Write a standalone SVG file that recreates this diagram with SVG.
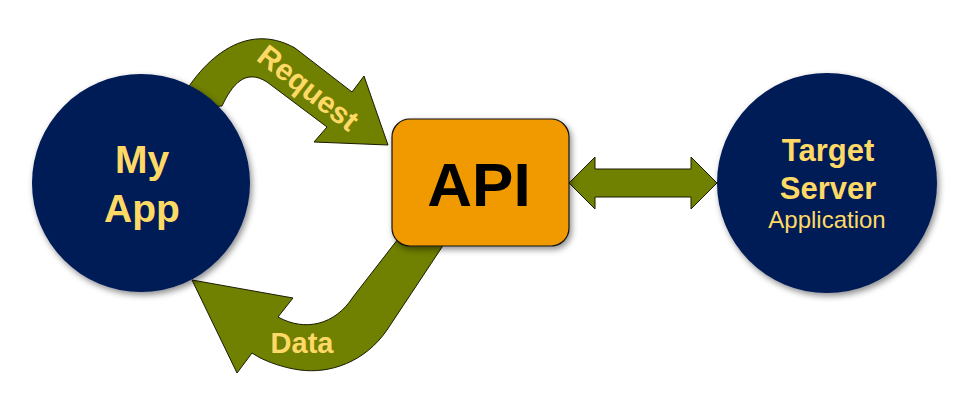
<svg xmlns="http://www.w3.org/2000/svg" width="960" height="419" viewBox="0 0 960 419">
<defs>
<filter id="sh" x="-20%" y="-20%" width="140%" height="140%">
<feDropShadow dx="2" dy="3" stdDeviation="3" flood-color="#000" flood-opacity="0.45"/>
</filter>
</defs>
<style>
.arrow{fill:#708000;stroke:#1a1a00;stroke-width:1}
.node{fill:#001B56;filter:url(#sh)}
.lbl{font-family:"Liberation Sans",Arial,sans-serif;font-weight:bold;fill:#FFD966;text-anchor:middle}
</style>
<g id="connectors">
<path class="arrow" d="M 175,110 C 200,60 245,20 295,48 L 352,92 L 364,76 L 388,145 L 314,142 L 327,127 L 267,82 C 245,68 232,85 222,106 Z"/>
<text class="lbl" font-size="30" transform="translate(302,96) rotate(38)">Request</text>
<path class="arrow" d="M 405,230 L 452,232 L 387,330 C 365,362 330,374 300,370 C 285,368 265,362 252,353 L 237,373 L 192,280 L 293,298 L 278,317 C 305,332 335,325 353,297 Z"/>
<text class="lbl" font-size="29" x="302" y="353">Data</text>
<path class="arrow" d="M 569,183 L 595,157 L 595,169 L 691,169 L 691,157 L 717,183 L 691,209 L 691,197 L 595,197 L 595,209 Z"/>
</g>
<g id="myapp">
<circle class="node" cx="141" cy="183" r="109"/>
<text class="lbl" font-size="39" x="142" y="173">My</text>
<text class="lbl" font-size="39" x="142" y="222">App</text>
</g>
<g id="api">
<rect x="392" y="119" width="177" height="127" rx="18" fill="#F09A02" stroke="#111" stroke-width="1.2" filter="url(#sh)"/>
<text x="479" y="206" font-family="'Liberation Sans',Arial,sans-serif" font-weight="bold" font-size="62" text-anchor="middle" fill="#000">API</text>
</g>
<g id="target">
<circle class="node" cx="827" cy="183" r="110"/>
<text class="lbl" font-size="31" x="828" y="161">Target</text>
<text class="lbl" font-size="31" x="828" y="199">Server</text>
<text class="lbl" font-size="24" x="827" y="228" style="font-weight:normal">Application</text>
</g>
</svg>
